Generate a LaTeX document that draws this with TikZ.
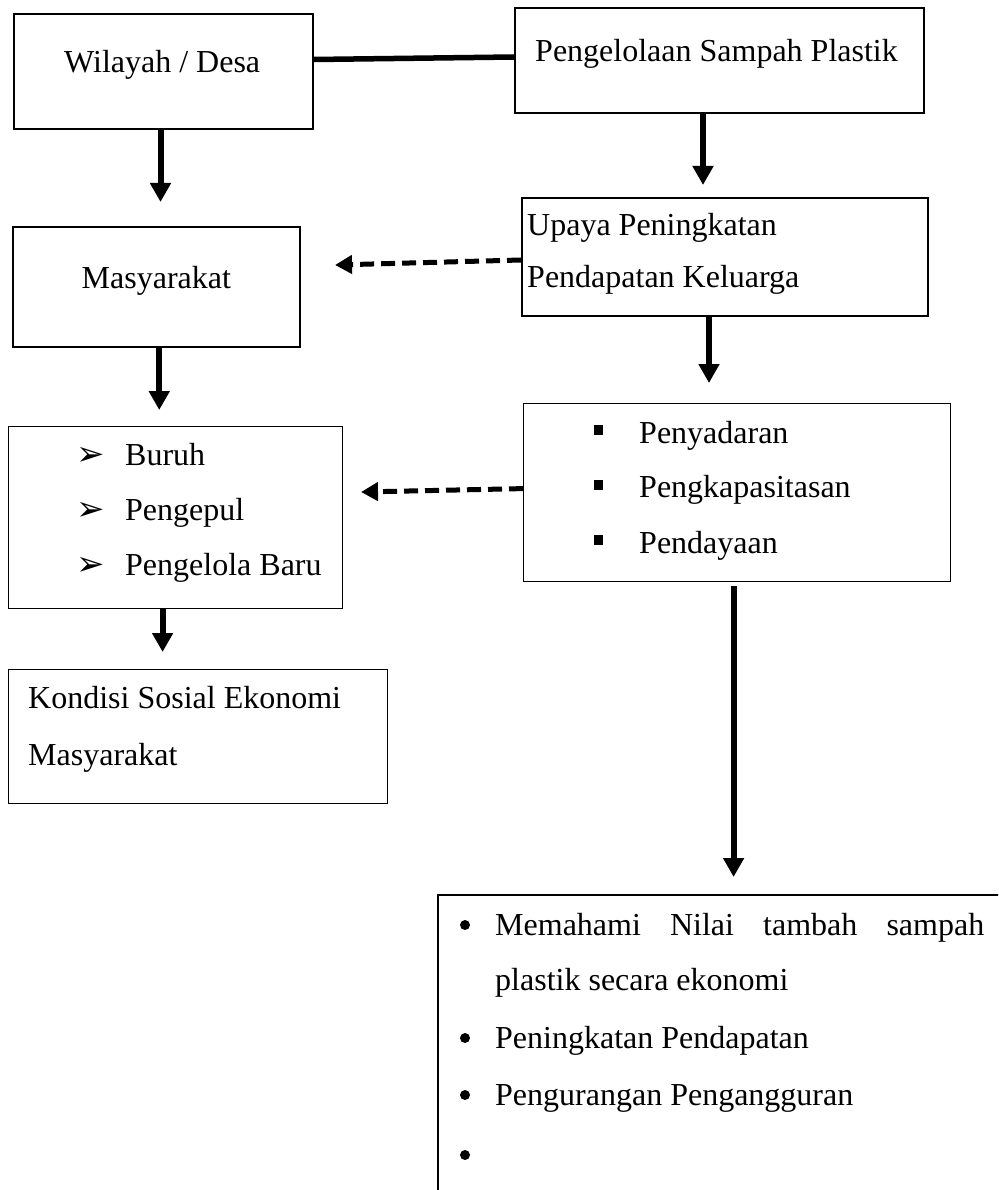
\documentclass[tikz,border=0pt]{standalone}
\usepackage{fontspec}
\setmainfont{Liberation Serif}
\newfontfamily\symfont{DejaVu Sans}
\usetikzlibrary{arrows.meta}
\tikzset{
  boxthick/.style={draw, line width=2pt, inner sep=0pt, anchor=north west, rectangle},
  boxthin/.style={draw, line width=1.2pt, inner sep=0pt, anchor=north west, rectangle},
  txt/.style={anchor=base west, inner sep=0pt, font=\fontsize{32}{38}\selectfont},
  arr/.style={line width=6pt, -{Triangle[length=19pt,width=20pt]}},
  darr/.style={line width=5pt, dash pattern=on 14pt off 7pt, -{Triangle[length=17pt,width=18pt]}},
  link/.style={line width=5.5pt},
  sq/.style={fill=black, inner sep=0pt, minimum width=9pt, minimum height=10pt},
  arrowbullet/.style={anchor=base west, inner sep=0pt, font=\symfont\fontsize{34}{40}\selectfont},
  dotbullet/.style={circle, fill=black, inner sep=0pt, minimum size=10pt}
}
\begin{document}
\begin{tikzpicture}[x=1pt,y=-1pt]
\useasboundingbox (0,0) rectangle (998,1190);
\fill[white] (0,0) rectangle (998,1190);
\begin{scope}
\clip (0,0) rectangle (998,1190);
% boxes
\node[boxthick, minimum width=299pt, minimum height=115pt] (W) at (13,13) {};
\node[boxthick, minimum width=409pt, minimum height=105pt] (P) at (514,7) {};
\node[boxthick, minimum width=287.5pt, minimum height=120pt] (M) at (11.5,226) {};
\node[boxthick, minimum width=406pt, minimum height=118pt] (U) at (521,197) {};
\node[boxthin, minimum width=334pt, minimum height=182pt] (L) at (8,426) {};
\node[boxthin, minimum width=427pt, minimum height=178pt] (R) at (523,403) {};
\node[boxthin, minimum width=379pt, minimum height=134pt] (K) at (8,669) {};
\node[boxthin, line width=1.5pt, minimum width=573pt, minimum height=316pt] (B) at (437,894) {};
\end{scope}
% texts
\node[txt] (tW) at (64,73) {Wilayah / Desa};
\node[txt] (tP) at (535,62) {Pengelolaan Sampah Plastik};
\node[txt] (tM) at (81.5,288) {Masyarakat};
\node[txt] (tU1) at (527,236) {Upaya Peningkatan};
\node[txt] (tU2) at (527,287) {Pendapatan Keluarga};
% left list
\node[arrowbullet] (bL1) at (76,465) {➢};
\node[arrowbullet] (bL2) at (76,520) {➢};
\node[arrowbullet] (bL3) at (76,575) {➢};
\node[txt] (tL1) at (125,465) {Buruh};
\node[txt] (tL2) at (125,520) {Pengepul};
\node[txt] (tL3) at (125,575) {Pengelola Baru};
% right list
\node[sq] (sR1) at (598,430) {};
\node[sq] (sR2) at (598,485) {};
\node[sq] (sR3) at (598,540) {};
\node[txt] (tR1) at (639,443) {Penyadaran};
\node[txt] (tR2) at (639,497) {Pengkapasitasan};
\node[txt] (tR3) at (639,553) {Pendayaan};
% Kondisi
\node[txt] (tK1) at (28,708) {Kondisi Sosial Ekonomi};
\node[txt] (tK2) at (28,765) {Masyarakat};
% bottom list
\node[dotbullet] (bB1) at (465,925) {};
\node[dotbullet] (bB2) at (465,1038) {};
\node[dotbullet] (bB3) at (465,1095) {};
\node[dotbullet] (bB4) at (465,1155) {};
\node[txt] (tB1) at (495,935) {\makebox[489pt][s]{Memahami\hfill Nilai\hfill tambah\hfill sampah}};
\node[txt] (tB2) at (495,990) {plastik secara ekonomi};
\node[txt] (tB3) at (495,1048) {Peningkatan Pendapatan};
\node[txt] (tB4) at (495,1105) {Pengurangan Pengangguran};
% connectors
\draw[link] ([yshift=12pt]W.east) -- ([yshift=3.5pt]P.west);
\draw[arr, shorten >=24pt] ([xshift=-3pt]W.south) -- ([xshift=-3pt]W.south |- M.north);
\draw[arr, shorten >=12pt] ([xshift=-16.5pt]P.south) -- ([xshift=-16.5pt]P.south |- U.north);
\coordinate (d1) at (335,265);
\draw[darr] ([yshift=-3pt]U.west) -- (d1);
\draw[arr, shorten >=16pt] ([xshift=3pt]M.south) -- ([xshift=3pt]M.south |- L.north);
\draw[arr, shorten >=20pt] ([xshift=-16pt]U.south) -- ([xshift=-16pt]U.south |- R.north);
\coordinate (d2) at (361,492);
\draw[darr] ([yshift=4pt]R.west) -- (d2);
\draw[arr, shorten >=17pt] ([xshift=-13pt]L.south) -- ([xshift=-13pt]L.south |- K.north);
\draw[arr, shorten <=4pt, shorten >=17pt] ([xshift=-3.5pt]R.south) -- ([xshift=-3.5pt]R.south |- B.north);
\end{tikzpicture}
\end{document}
